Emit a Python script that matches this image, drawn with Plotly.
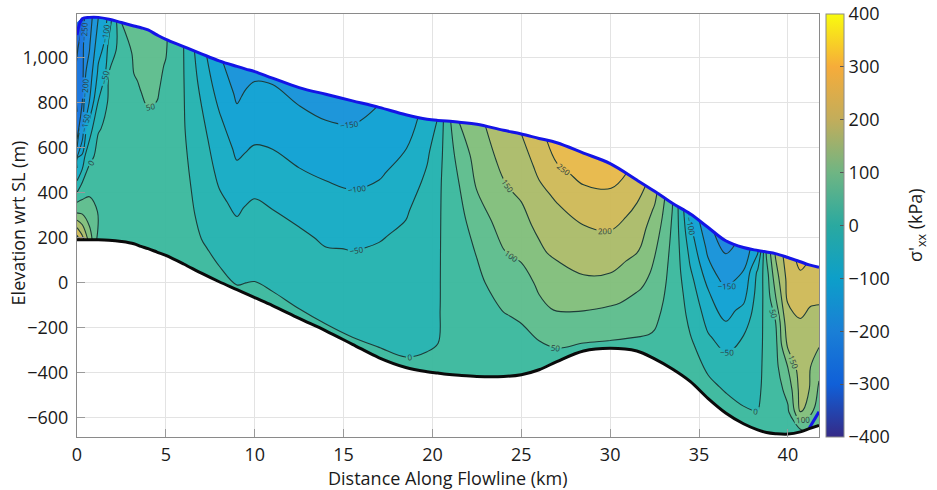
import numpy as np
import plotly.graph_objects as go

distance_km = [0, 0.3, 0.7, 1.2, 1.8, 2.5, 3.2, 3.6, 4, 4.5, 5, 6, 7, 8, 9, 9.5, 10, 11, 12.5, 14, 15.5, 17, 18.5, 19.7, 20.3,
               20.8, 21.5, 22.5, 24, 25, 26, 27, 28.5, 30, 31.5, 32.5, 33.5, 34.5, 35.5, 36.5, 37.5, 38.3, 38.8,
               39.3, 40, 40.7, 41.2, 41.75]
surface_m = [1100, 1172, 1178, 1178, 1170, 1155, 1140, 1132, 1122, 1100, 1080, 1048, 1016, 985, 960, 948, 937, 908, 866, 836, 807,
             778, 745, 725, 720, 718, 712, 703, 676, 660, 640, 621, 575, 528, 455, 405, 352, 305, 245, 185, 155, 142,
             135, 128, 111, 92, 78, 67]
bed_m = [190, 190, 190, 190, 188, 182, 172, 160, 150, 135, 120, 82, 41, 3, -32, -50, -68, -103, -160, -215, -275, -335, -378,
         -397, -403, -408, -413, -418, -418, -410, -388, -352, -305, -293, -305, -340, -385, -440, -515, -580, -628,
         -655, -667, -672, -674, -664, -650, -635]
shelf_x = [41.2, 41.75]
shelf_y = [-648, -575]
depth_fraction = [0, 0.125, 0.25, 0.375, 0.5, 0.625, 0.75, 0.875, 1]

# deviatoric stress (kPa), one row per flowline position, from bed to surface
stress_kpa = [
    [280, 110, -20, -120, -260, -300, -320, -340, -370],
    [220, 90, 2, -90, -190, -250, -270, -285, -305],
    [130, 68, 35, -15, -75, -150, -180, -205, -225],
    [30, 48, 32, 14, -3, -50, -90, -120, -150],
    [28, 30, 30, 26, 20, 11, 3, -35, -75],
    [22, 25, 28, 28, 25, 20, 18, 25, 50],
    [20, 25, 30, 34, 38, 42, 48, 56, 65],
    [19, 24, 29, 35, 40, 46, 52, 58, 63],
    [18, 24, 30, 36, 42, 49, 55, 60, 62],
    [16, 22, 27, 32, 38, 46, 53, 58, 60],
    [15, 20, 25, 30, 33, 37, 42, 48, 55],
    [22, 20, 16, 12, 7, 3, 2, 1, 0],
    [12, 3, -9, -18, -26, -35, -48, -65, -82],
    [8, -6, -27, -44, -60, -76, -96, -120, -142],
    [4, -20, -37, -58, -84, -109, -134, -158, -180],
    [5, -8, -27, -46, -73, -99, -122, -143, -168],
    [4, -3, -18, -38, -62, -89, -116, -135, -158],
    [6, -6, -24, -42, -63, -88, -112, -133, -155],
    [6, -12, -30, -46, -70, -95, -118, -141, -165],
    [5, -17, -35, -53, -75, -98, -124, -147, -172],
    [6, -20, -35, -48, -73, -98, -121, -144, -170],
    [7, -14, -27, -39, -55, -83, -108, -130, -148],
    [6, -12, -22, -30, -40, -55, -78, -103, -120],
    [7, -4, -12, -15, -20, -27, -40, -58, -85],
    [9, -1, -4, -5, -6, -8, -12, -25, -48],
    [15, 12, 11, 12, 13, 15, 18, 22, 28],
    [14, 13, 14, 18, 25, 34, 49, 68, 100],
    [15, 18, 24, 38, 54, 78, 103, 120, 135],
    [20, 32, 48, 70, 97, 118, 141, 163, 185],
    [25, 36, 56, 82, 107, 130, 157, 178, 200],
    [32, 50, 85, 110, 138, 162, 187, 210, 235],
    [38, 62, 107, 132, 158, 180, 205, 243, 270],
    [38, 75, 115, 148, 173, 197, 230, 258, 280],
    [37, 75, 105, 143, 170, 197, 225, 253, 275],
    [35, 58, 78, 107, 133, 162, 180, 202, 232],
    [32, 45, 58, 72, 88, 102, 120, 142, 165],
    [15, 18, 22, 26, 29, 33, 38, 44, 52],
    [25, 15, 3, -8, -20, -40, -60, -85, -110],
    [18, 2, -18, -48, -75, -97, -135, -160, -190],
    [15, -1, -25, -57, -92, -123, -157, -188, -218],
    [12, -3, -17, -33, -50, -83, -122, -152, -185],
    [10, -2, -7, -10, -15, -20, -28, -40, -110],
    [15, 12, 10, 10, 12, 15, 20, 30, 60],
    [18, 20, 23, 27, 35, 50, 95, 128, 155],
    [22, 42, 65, 100, 157, 180, 203, 215, 230],
    [35, 160, 170, 178, 185, 195, 210, 232, 262],
    [70, 120, 152, 155, 170, 190, 201, 225, 245],
    [60, 85, 95, 115, 152, 180, 197, 225, 245],
]
x_ticks = [0, 5, 10, 15, 20, 25, 30, 35, 40]
y_ticks = [-600, -400, -200, 0, 200, 400, 600, 800, 1000]
cbar_ticks = [-400, -300, -200, -100, 0, 100, 200, 300, 400]
parula = [[0, "#352a87"], [0.125, "#1060d8"], [0.25, "#1a7fd6"], [0.375, "#0d9fc9"], [0.5, "#2aa9a0"],
          [0.625, "#6fb583"], [0.75, "#c2ad5b"], [0.875, "#f6ac3a"], [1, "#f9fb0e"]]
parula_fill = [[0, "#352a87"], [0.125, "#0b62e0"], [0.25, "#1585dc"], [0.375, "#06a4d0"], [0.5, "#26b5a4"],
               [0.625, "#6fbf80"], [0.75, "#c8b858"], [0.875, "#fdb63a"], [1, "#f9fb0e"]]

FONT = "Open Sans"
a = np.array(distance_km, dtype=float)
b = np.array(depth_fraction, dtype=float)
S = np.array(surface_m, dtype=float)
B = np.array(bed_m, dtype=float)
X = np.tile(a, (len(b), 1))
Y = np.outer(b, S - B) + B
Z = np.array(stress_kpa, dtype=float).T

hidden = dict(showgrid=False, showticklabels="none", showline=False, startline=False, endline=False,
              minorgridcount=0, tickmode="array", tickvals=[], smoothing=1)

fig = go.Figure()
fig.add_trace(go.Carpet(a=a, b=b, x=X, y=Y, carpet="c", aaxis=hidden, baxis=hidden))
fig.add_trace(go.Contourcarpet(
    a=a, b=b, z=Z, carpet="c", colorscale=parula_fill, showscale=False, opacity=0.94,
    autocontour=False,
    contours=dict(start=-400, end=400, size=50, coloring="fill", showlabels=True,
                  labelfont=dict(size=8, color="#203030", family=FONT)),
    line=dict(color="#10302c", width=1.1, smoothing=1.0),
))
fig.add_trace(go.Scatter(x=distance_km, y=surface_m, mode="lines", line=dict(color="#1414e6", width=3, shape="spline"),
                         showlegend=False, cliponaxis=False))
fig.add_trace(go.Scatter(x=shelf_x, y=shelf_y, mode="lines", line=dict(color="#1414e6", width=3), showlegend=False))
fig.add_trace(go.Scatter(x=distance_km, y=bed_m, mode="lines", line=dict(color="#0a0a0a", width=3, shape="spline"),
                         showlegend=False))
fig.add_trace(go.Scatter(
    x=[None, None], y=[None, None], mode="markers", showlegend=False,
    marker=dict(color=[-400, 400], cmin=-400, cmax=400, colorscale=parula, showscale=True,
                colorbar=dict(x=1.0097, xanchor="left", xpad=0, y=0, yanchor="bottom", ypad=0, len=1,
                              lenmode="fraction", thickness=17.6, thicknessmode="pixels",
                              outlinecolor="#8a8a8a", outlinewidth=1, ticks="inside", ticklen=4, tickcolor="#555",
                              tickmode="array", tickvals=cbar_ticks,
                              tickfont=dict(size=18, color="#1a1a1a", family=FONT)))))

axis = dict(showline=True, mirror=True, linecolor="#8a8a8a", linewidth=1.2, ticks="inside", ticklen=8,
            tickcolor="#9a9a9a", showgrid=True, gridcolor="#e3e3e3", gridwidth=1, zeroline=False, automargin=False,
            tickfont=dict(size=18, color="#1a1a1a", family=FONT))
title_font = dict(size=18, color="#1a1a1a", family=FONT)
fig.update_layout(
    width=937, height=490, margin=dict(l=77, r=117.5, t=13.5, b=53.3, autoexpand=False),
    paper_bgcolor="white", plot_bgcolor="white", showlegend=False, font=dict(family=FONT),
    xaxis=dict(axis, range=[0, 41.75], tickmode="array", tickvals=x_ticks, ticklabelstandoff=1),
    yaxis=dict(axis, range=[-687, 1193], tickmode="array", tickvals=y_ticks, tickformat=",", ticklabelstandoff=4),
    annotations=[
        dict(text="Distance Along Flowline (km)", xref="paper", yref="paper", x=0.4997, y=-0.0976, xanchor="center",
             yanchor="middle", showarrow=False, font=title_font),
        dict(text="Elevation wrt SL (m)", xref="paper", yref="paper", x=-0.0795, y=0.505, xanchor="center",
             yanchor="middle", textangle=-90, showarrow=False, font=title_font),
        dict(text="σ'<sub>xx</sub> (kPa)", xref="paper", yref="paper", x=1.1315, y=0.5, xanchor="center",
             yanchor="middle", textangle=-90, showarrow=False, font=title_font),
    ],
)
fig.write_html("out.html", config={"displayModeBar": False},
               post_script="document.body.style.margin='0';document.body.style.overflow='hidden';")
